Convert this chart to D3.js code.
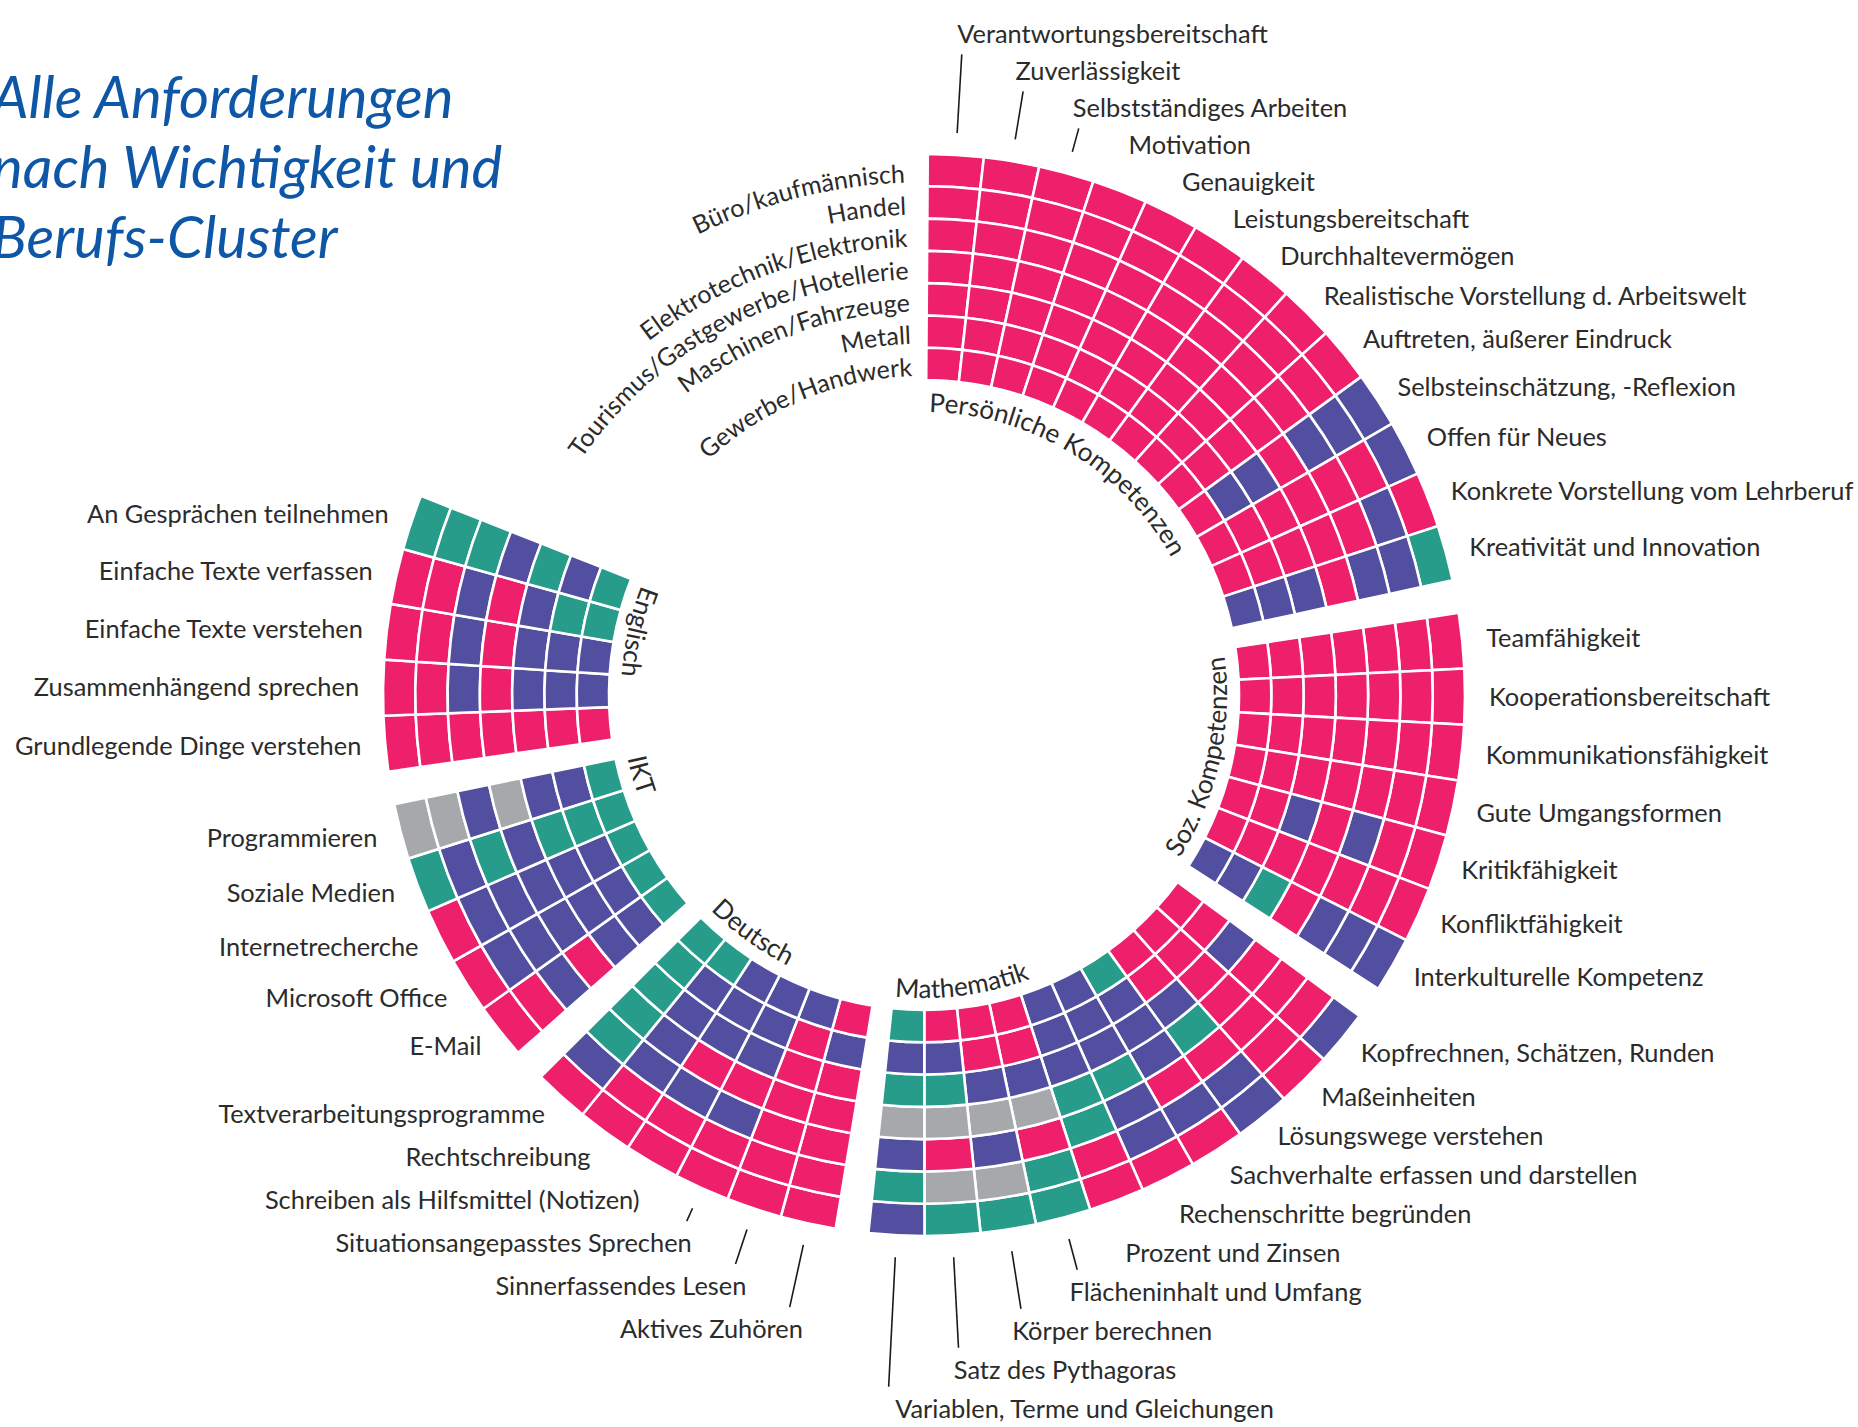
<!DOCTYPE html>
<html>
<head>
<meta charset="utf-8">
<script src="https://cdn.jsdelivr.net/npm/d3@7"></script>
<style>
  html, body { margin: 0; padding: 0; background: #ffffff; }
  svg { display: block; font-family: Lato, "Open Sans", "Noto Sans", sans-serif; }
</style>
</head>
<body>
<svg id="chart" width="1858" height="1427"></svg>
<script>
// ---------------- DATA ----------------
// Rings from outside to inside
const clusters = [
  "Büro/kaufmännisch",
  "Handel",
  "Elektrotechnik/Elektronik",
  "Tourismus/Gastgewerbe/Hotellerie",
  "Maschinen/Fahrzeuge",
  "Metall",
  "Gewerbe/Handwerk"
];

// importance levels: 0 = nicht wichtig, 1 = weniger wichtig, 2 = wichtig, 3 = sehr wichtig
const levels = [0, 1, 2, 3];
const levelColors = ["#a7a8ab", "#279c8a", "#524ea0", "#ee1f6b"];

const groupNames = ["Persönliche Kompetenzen", "Soz. Kompetenzen", "Mathematik", "Deutsch", "IKT", "Englisch"];

const persoenlicheItems = [
  "Verantwortungsbereitschaft", "Zuverlässigkeit", "Selbstständiges Arbeiten", "Motivation",
  "Genauigkeit", "Leistungsbereitschaft", "Durchhaltevermögen",
  "Realistische Vorstellung d. Arbeitswelt", "Auftreten, äußerer Eindruck",
  "Selbsteinschätzung, -Reflexion", "Offen für Neues", "Konkrete Vorstellung vom Lehrberuf",
  "Kreativität und Innovation"
];
// one array per item, values per cluster (outer ring first)
const persoenlicheValues = [
  [3,3,3,3,3,3,3],
  [3,3,3,3,3,3,3],
  [3,3,3,3,3,3,3],
  [3,3,3,3,3,3,3],
  [3,3,3,3,3,3,3],
  [3,3,3,3,3,3,3],
  [3,3,3,3,3,3,3],
  [3,3,3,3,3,3,3],
  [3,3,3,3,3,3,3],
  [2,2,2,3,2,2,3],
  [2,3,3,3,3,3,3],
  [3,2,3,3,3,3,3],
  [1,2,2,3,2,2,2]
];

const sozialItems = [
  "Teamfähigkeit", "Kooperationsbereitschaft", "Kommunikationsfähigkeit", "Gute Umgangsformen",
  "Kritikfähigkeit", "Konfliktfähigkeit", "Interkulturelle Kompetenz"
];
const sozialValues = [
  [3,3,3,3,3,3,3],
  [3,3,3,3,3,3,3],
  [3,3,3,3,3,3,3],
  [3,3,3,3,3,3,3],
  [3,3,2,3,2,3,3],
  [3,3,3,3,3,3,3],
  [2,2,2,3,1,2,2]
];

const mathematikItems = [
  "Kopfrechnen, Schätzen, Runden", "Maßeinheiten", "Lösungswege verstehen",
  "Sachverhalte erfassen und darstellen", "Rechenschritte begründen", "Prozent und Zinsen",
  "Flächeninhalt und Umfang", "Körper berechnen", "Satz des Pythagoras",
  "Variablen, Terme und Gleichungen"
];
const mathematikValues = [
  [2,3,3,3,2,3,3],
  [3,3,3,3,3,3,3],
  [2,2,3,1,2,3,3],
  [3,2,3,2,2,2,1],
  [3,2,2,1,2,2,2],
  [3,3,1,1,2,2,2],
  [1,1,3,0,2,3,3],
  [1,0,2,0,2,3,3],
  [1,0,3,0,1,2,3],
  [2,1,2,0,1,2,1]
];

const deutschItems = [
  "Aktives Zuhören", "Sinnerfassendes Lesen", "Situationsangepasstes Sprechen",
  "Schreiben als Hilfsmittel (Notizen)", "Rechtschreibung", "Textverarbeitungsprogramme"
];
const deutschValues = [
  [3,3,3,3,3,2,3],
  [3,3,3,3,3,3,2],
  [3,3,2,3,2,2,2],
  [3,3,2,3,2,2,2],
  [3,3,2,2,2,2,1],
  [3,2,1,1,1,1,1]
];

const iktItems = ["E-Mail", "Microsoft Office", "Internetrecherche", "Soziale Medien", "Programmieren"];
const iktValues = [
  [3,3,2,3,2,2,1],
  [3,2,2,2,2,2,1],
  [3,2,2,2,2,2,1],
  [1,2,1,2,1,1,1],
  [0,0,2,0,2,2,1]
];

const englischItems = [
  "Grundlegende Dinge verstehen", "Zusammenhängend sprechen", "Einfache Texte verstehen",
  "Einfache Texte verfassen", "An Gesprächen teilnehmen"
];
const englischValues = [
  [3,3,3,3,3,3,3],
  [3,3,2,3,2,2,2],
  [3,3,2,3,2,2,2],
  [3,3,2,3,2,1,1],
  [1,1,1,2,1,2,1]
];

const titleLines = ["Alle Anforderungen", "nach Wichtigkeit und", "Berufs-Cluster"];

// ---------------- LAYOUT ----------------
const groups = [
  { name: groupNames[0], items: persoenlicheItems, values: persoenlicheValues },
  { name: groupNames[1], items: sozialItems, values: sozialValues },
  { name: groupNames[2], items: mathematikItems, values: mathematikValues },
  { name: groupNames[3], items: deutschItems, values: deutschValues },
  { name: groupNames[4], items: iktItems, values: iktValues },
  { name: groupNames[5], items: englischItems, values: englischValues }
];

const cx = 924, cy = 695, rInner = 315, rOuter = 541;
const deg = Math.PI / 180;
const startDeg = 0.4, colDeg = 5.95, gapDeg = 3.5;
const gapSlots = gapDeg / colDeg;
const labelFont = 25.4;

const items = [];
let gIndex = 0;
groups.forEach((g, gi) => {
  g.firstSlot = gIndex + gi * gapSlots;
  g.items.forEach((name, ii) => {
    items.push({ name, group: gi, values: g.values[ii], slot: gIndex + gi * gapSlots });
    gIndex++;
  });
  g.lastSlot = gIndex + gi * gapSlots;
});
const totalSlots = gIndex + (groups.length - 1) * gapSlots;

const angle = d3.scaleLinear()
  .domain([0, totalSlots])
  .range([startDeg * deg, (startDeg + gIndex * colDeg + (groups.length - 1) * gapDeg) * deg]);

const ring = d3.scaleBand().domain(clusters).range([rOuter, rInner]);
const color = d3.scaleOrdinal().domain(levels).range(levelColors);

const svg = d3.select("#chart");
const defs = svg.append("defs");

// Title
svg.append("text")
  .attr("x", -8).attr("y", 118)
  .attr("font-style", "italic")
  .attr("font-size", 58)
  .attr("fill", "#0e56a6")
  .selectAll("tspan").data(titleLines).join("tspan")
  .attr("x", -8)
  .attr("dy", (d, i) => i === 0 ? 0 : 70)
  .text(d => d);

const chart = svg.append("g").attr("transform", `translate(${cx},${cy})`);

// Cells
const cells = [];
items.forEach(it => {
  clusters.forEach((c, k) => {
    cells.push({ cluster: c, value: it.values[k], a0: angle(it.slot), a1: angle(it.slot + 1) });
  });
});

const arc = d3.arc()
  .innerRadius(d => ring(d.cluster))
  .outerRadius(d => ring(d.cluster) + ring.bandwidth())
  .startAngle(d => d.a0)
  .endAngle(d => d.a1);

chart.append("g").selectAll("path").data(cells).join("path")
  .attr("d", arc)
  .attr("fill", d => color(d.value))
  .attr("stroke", "#ffffff")
  .attr("stroke-width", 2.6);

// Cluster labels: curved along each ring, ending just before the first column
const clusterEnd = -2.1 * deg;
clusters.forEach((c, i) => {
  const r = ring(c) + ring.bandwidth() / 2 - 12;
  const p = d3.path();
  p.arc(0, 0, r, clusterEnd - Math.PI / 2 - 100 * deg, clusterEnd - Math.PI / 2, false);
  defs.append("path").attr("id", "cp" + i).attr("d", p.toString());
  chart.append("text")
    .attr("font-size", 25)
    .attr("fill", "#2b2b2b")
    .attr("text-anchor", "end")
    .append("textPath")
    .attr("href", "#cp" + i)
    .attr("startOffset", "100%")
    .text(c);
});

// Group labels along the inner edge
groups.forEach((g, gi) => {
  const p = d3.path();
  const a0 = angle(g.firstSlot), a1 = angle(g.lastSlot);
  if (gi === 0) {
    const r = 283;
    p.arc(0, 0, r, a0 - Math.PI / 2, a0 - Math.PI / 2 + Math.PI * 0.9, false);
  } else {
    const r = 303;
    p.arc(0, 0, r, a1 - Math.PI / 2, a1 - Math.PI / 2 - Math.PI * 0.6, true);
  }
  defs.append("path").attr("id", "gp" + gi).attr("d", p.toString());
  chart.append("text")
    .attr("font-size", 26)
    .attr("fill", "#2b2b2b")
    .append("textPath")
    .attr("href", "#gp" + gi)
    .attr("startOffset", gi === 0 ? 3 : 2)
    .text(g.name);
});

// Item labels with simple vertical relaxation
const labelR = 565, lineR = 563;
items.forEach(d => {
  d.mid = (angle(d.slot) + angle(d.slot + 1)) / 2;
  d.nx = labelR * Math.sin(d.mid);
  d.ny = -labelR * Math.cos(d.mid);
  d.y = d.ny;
  d.side = d.group < 3 ? "right" : "left";
});
function relax(list, gapUp, gapDown) {
  const above = list.filter(d => d.ny < 0).sort((a, b) => b.ny - a.ny);
  for (let i = 1; i < above.length; i++) above[i].y = Math.min(above[i].ny, above[i - 1].y - gapUp);
  const below = list.filter(d => d.ny >= 0).sort((a, b) => a.ny - b.ny);
  for (let i = 1; i < below.length; i++) below[i].y = Math.max(below[i].ny, below[i - 1].y + gapDown);
}
relax(items.filter(d => d.side === "right"), 37, 39);
relax(items.filter(d => d.side === "left"), 42, 43);

const leaders = [];
items.forEach(d => {
  const c = Math.cos(d.mid), s = Math.sin(d.mid);
  const y0 = -lineR * c;
  const above = d.ny < 0;
  const y1 = d.y + (above ? 20 : -22);
  const len = above ? (y0 - y1) : (y1 - y0);
  if (len > 11) {
    const r1 = -y1 / c;
    leaders.push({ x0: lineR * s, y0, x1: r1 * s, y1 });
  }
});

chart.append("g").selectAll("line").data(leaders).join("line")
  .attr("x1", d => d.x0).attr("y1", d => d.y0)
  .attr("x2", d => d.x1).attr("y2", d => d.y1)
  .attr("stroke", "#1a1a1a")
  .attr("stroke-width", 1.6);

chart.append("g").selectAll("text").data(items).join("text")
  .attr("x", d => d.nx)
  .attr("y", d => d.y)
  .attr("dy", "0.35em")
  .attr("text-anchor", d => d.side === "right" ? "start" : "end")
  .attr("font-size", labelFont)
  .attr("fill", "#2b2b2b")
  .text(d => d.name);
</script>
</body>
</html>
